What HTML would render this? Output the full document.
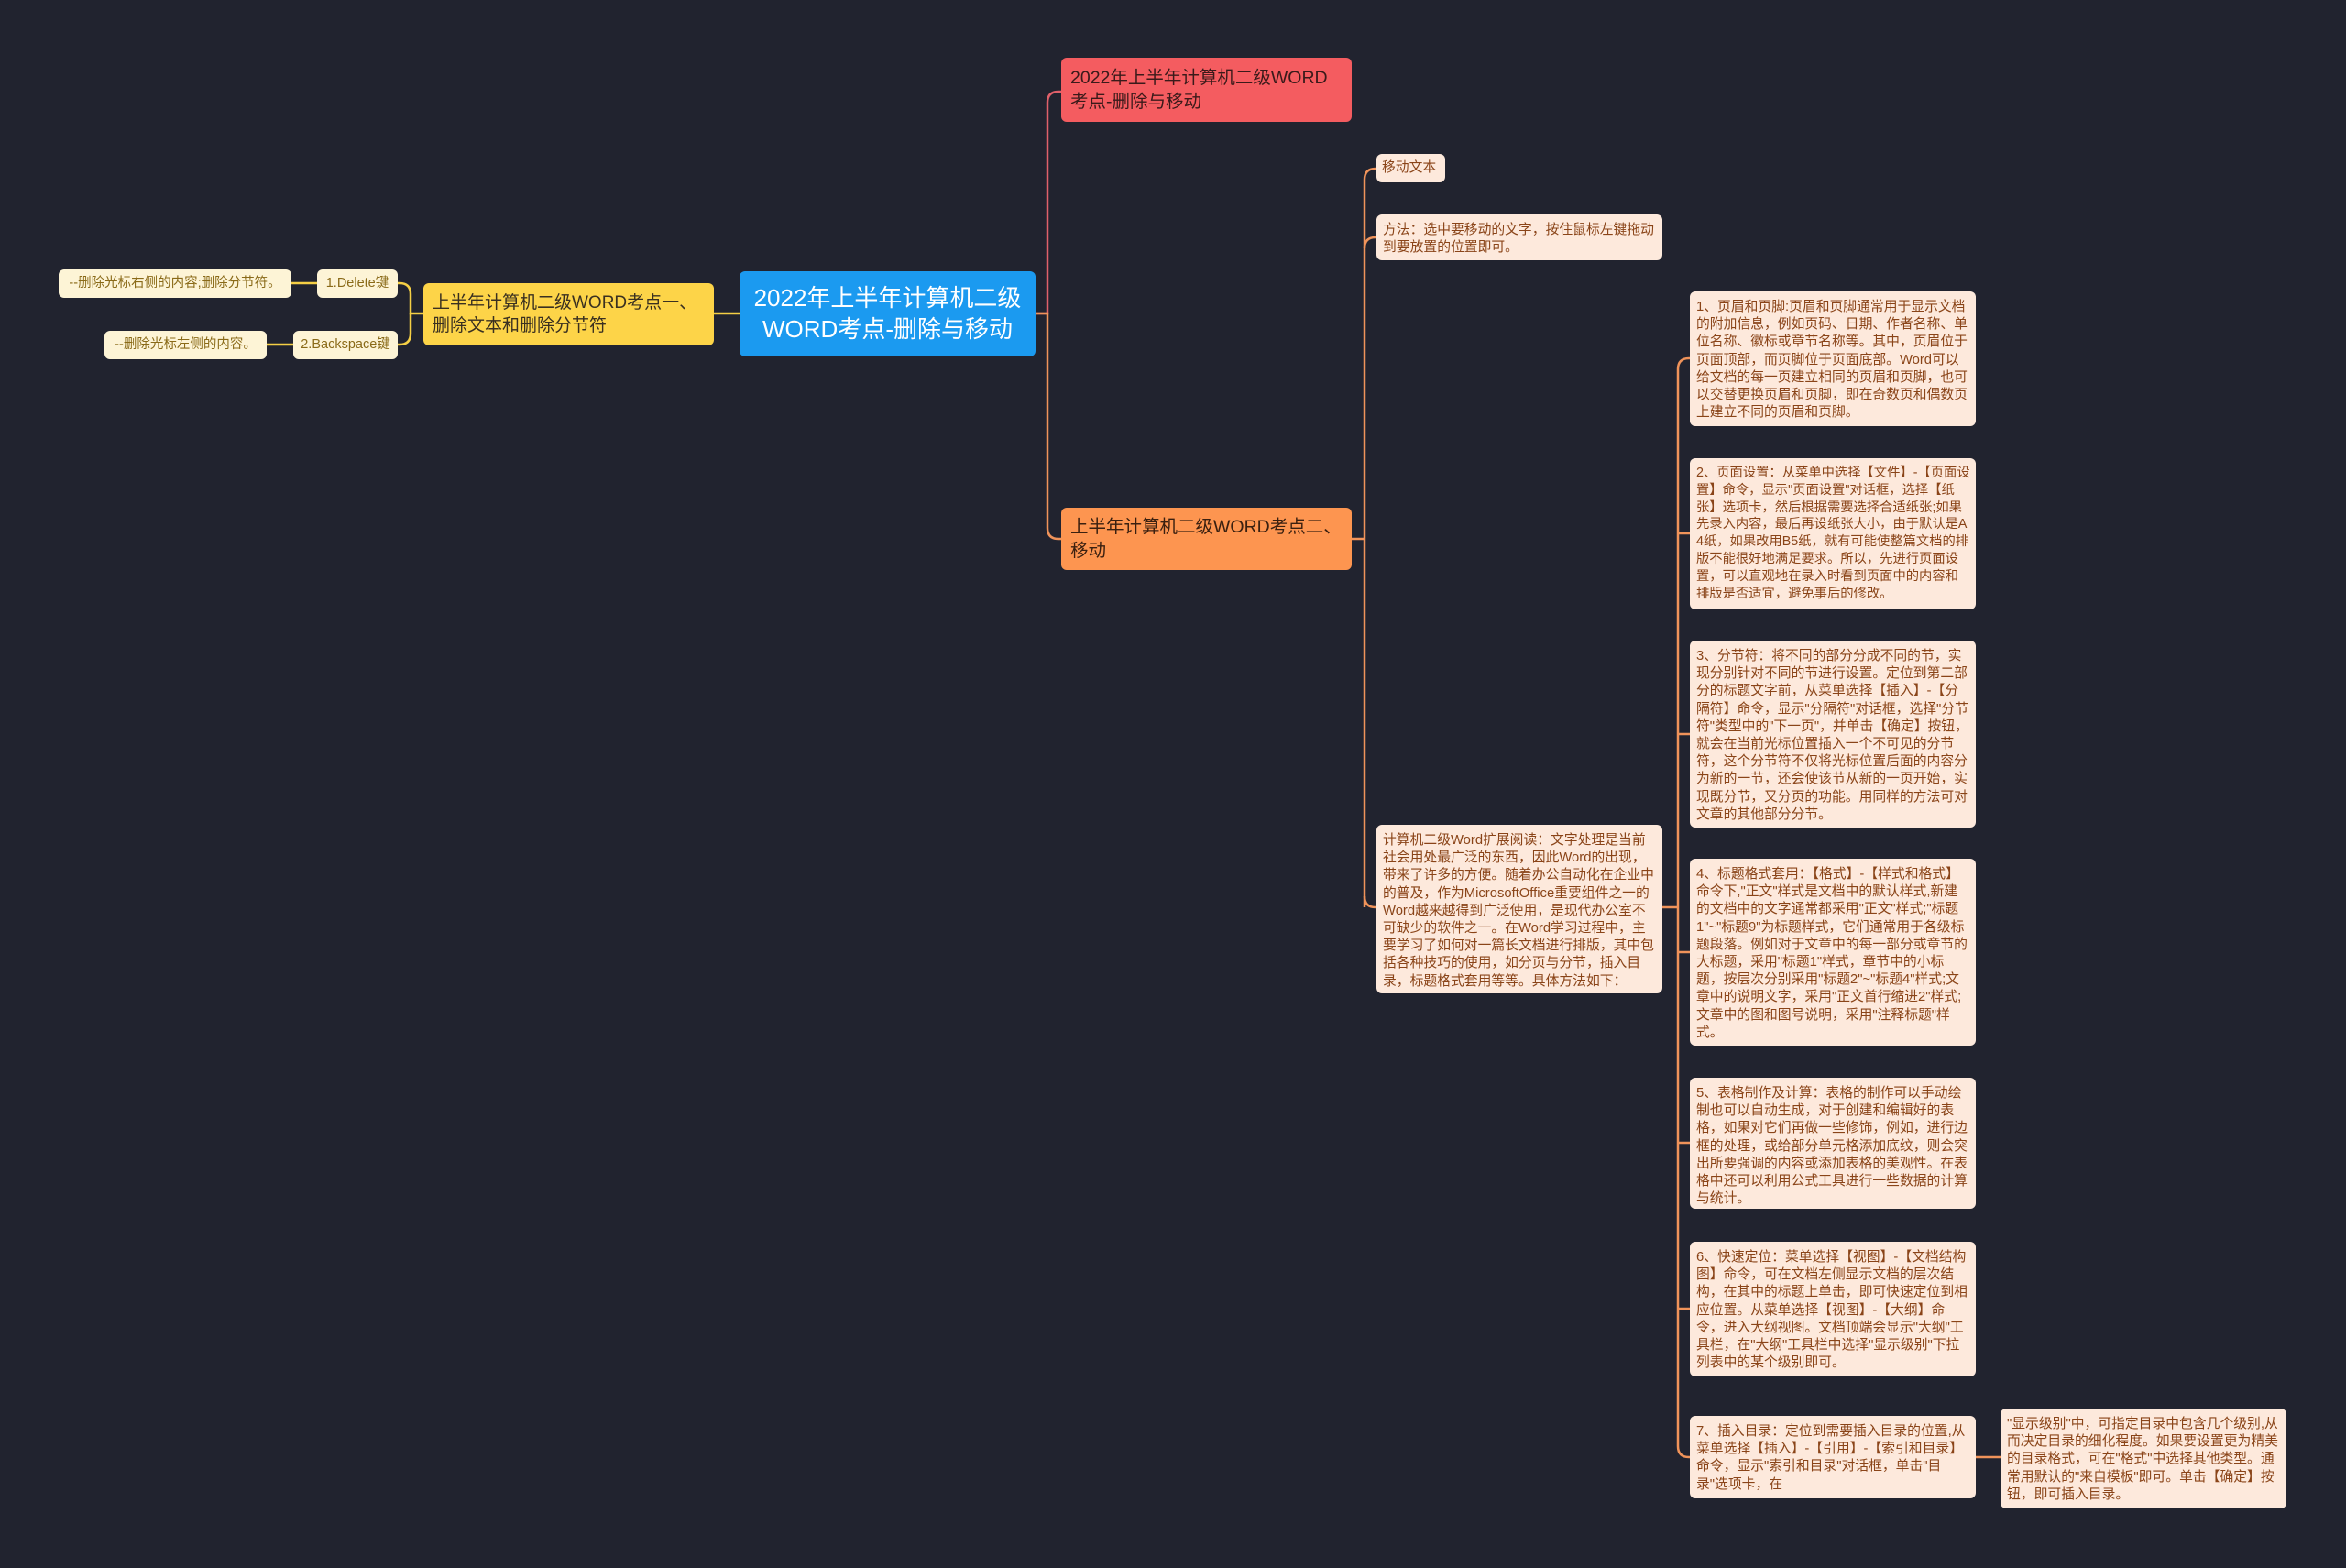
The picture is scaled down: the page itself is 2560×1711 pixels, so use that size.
<!DOCTYPE html>
<html><head><meta charset="utf-8"><style>
html,body{margin:0;padding:0;background:#21232f;}
body{width:2560px;height:1711px;position:relative;overflow:hidden;font-family:"Liberation Sans","Noto Sans CJK SC",sans-serif;}
.n{position:absolute;box-sizing:border-box;border-radius:6px;}
.p{background:#fde9dc;color:#8a4418;font-size:14.8px;line-height:19.2px;padding:8px 6px 6px 7px;word-break:break-all;overflow:hidden;}
.c{background:#fdf4d6;color:#8a6a18;font-size:14.5px;line-height:31px;text-align:center;white-space:nowrap;}
svg{position:absolute;left:0;top:0;}
</style></head><body>
<svg width="2560" height="1711" fill="none" stroke-width="2.5">
<path d="M1130 342 H1143 V112 Q1143 100 1155 100 H1158" stroke="#e0606a"/>
<path d="M1130 342 H1143 V576 Q1143 588 1155 588 H1158" stroke="#f0935a"/>
<path d="M1475 588 H1489" stroke="#f0935a"/>
<path d="M1489 990 V196 Q1489 184 1501 184 H1502" stroke="#f0935a"/>
<path d="M1489 271 Q1489 259 1501 259 H1502" stroke="#f0935a"/>
<path d="M1489 978 Q1489 990 1501 990 H1502" stroke="#f0935a"/>
<path d="M1814 990 H1831" stroke="#f0935a"/>
<path d="M1831 1578 V403 Q1831 391 1843 391 H1844" stroke="#f0935a"/>
<path d="M1831 582 H1844 M1831 801 H1844 M1831 1039 H1844 M1831 1247 H1844 M1831 1428 H1844" stroke="#f0935a"/>
<path d="M1831 1578 Q1831 1590 1843 1590 H1844" stroke="#f0935a"/>
<path d="M2156 1590 H2183" stroke="#f0935a"/>
<path d="M807 342 H779" stroke="#f5cf45"/>
<path d="M462 342 H448 V321 Q448 309 436 309 H434" stroke="#f5cf45"/>
<path d="M448 342 V364 Q448 376 436 376 H434" stroke="#f5cf45"/>
<path d="M346 309 H318" stroke="#f5cf45"/>
<path d="M320 376 H291" stroke="#f5cf45"/>
</svg>

<div class="n" style="left:807px;top:296px;width:323px;height:93px;background:#1b9af0;color:#fff;font-size:26px;line-height:34px;text-align:center;padding-top:12px;">2022年上半年计算机二级WORD考点-删除与移动</div>

<div class="n" style="left:1158px;top:63px;width:317px;height:70px;background:#f45c60;color:#3a1a1a;font-size:19.5px;line-height:26px;padding:9px 10px;">2022年上半年计算机二级WORD考点-删除与移动</div>
<div class="n" style="left:1158px;top:554px;width:317px;height:68px;background:#fd9550;color:#3a2010;font-size:19.5px;line-height:26px;padding:8px 10px;">上半年计算机二级WORD考点二、移动</div>

<div class="n" style="left:462px;top:309px;width:317px;height:68px;background:#fdd448;color:#3a3020;font-size:19px;line-height:25px;padding:9px 10px;">上半年计算机二级WORD考点一、删除文本和删除分节符</div>
<div class="n c" style="left:346px;top:294px;width:88px;height:31px;">1.Delete键</div>
<div class="n c" style="left:320px;top:361px;width:114px;height:31px;">2.Backspace键</div>
<div class="n c" style="left:64px;top:294px;width:254px;height:31px;">--删除光标右侧的内容;删除分节符。</div>
<div class="n c" style="left:114px;top:361px;width:177px;height:31px;">--删除光标左侧的内容。</div>

<div class="n p" style="left:1502px;top:168px;width:75px;height:31px;line-height:17px;white-space:nowrap;padding-left:6px;padding-top:7px;">移动文本</div>
<div class="n p" style="left:1502px;top:234px;width:312px;height:50px;">方法：选中要移动的文字，按住鼠标左键拖动到要放置的位置即可。</div>
<div class="n p" style="left:1502px;top:900px;width:312px;height:184px;">计算机二级Word扩展阅读：文字处理是当前社会用处最广泛的东西，因此Word的出现，带来了许多的方便。随着办公自动化在企业中的普及，作为MicrosoftOffice重要组件之一的Word越来越得到广泛使用，是现代办公室不可缺少的软件之一。在Word学习过程中，主要学习了如何对一篇长文档进行排版，其中包括各种技巧的使用，如分页与分节，插入目录，标题格式套用等等。具体方法如下：</div>

<div class="n p" style="left:1844px;top:318px;width:312px;height:147px;">1、页眉和页脚:页眉和页脚通常用于显示文档的附加信息，例如页码、日期、作者名称、单位名称、徽标或章节名称等。其中，页眉位于页面顶部，而页脚位于页面底部。Word可以给文档的每一页建立相同的页眉和页脚，也可以交替更换页眉和页脚，即在奇数页和偶数页上建立不同的页眉和页脚。</div>
<div class="n p" style="left:1844px;top:500px;width:312px;height:165px;font-size:14.3px;line-height:18.8px;padding-top:7px;padding-right:5px;">2、页面设置：从菜单中选择【文件】-【页面设置】命令，显示"页面设置"对话框，选择【纸张】选项卡，然后根据需要选择合适纸张;如果先录入内容，最后再设纸张大小，由于默认是A4纸，如果改用B5纸，就有可能使整篇文档的排版不能很好地满足要求。所以，先进行页面设置，可以直观地在录入时看到页面中的内容和排版是否适宜，避免事后的修改。</div>
<div class="n p" style="left:1844px;top:699px;width:312px;height:204px;">3、分节符：将不同的部分分成不同的节，实现分别针对不同的节进行设置。定位到第二部分的标题文字前，从菜单选择【插入】-【分隔符】命令，显示"分隔符"对话框，选择"分节符"类型中的"下一页"，并单击【确定】按钮，就会在当前光标位置插入一个不可见的分节符，这个分节符不仅将光标位置后面的内容分为新的一节，还会使该节从新的一页开始，实现既分节，又分页的功能。用同样的方法可对文章的其他部分分节。</div>
<div class="n p" style="left:1844px;top:937px;width:312px;height:204px;">4、标题格式套用：【格式】-【样式和格式】命令下,"正文"样式是文档中的默认样式,新建的文档中的文字通常都采用"正文"样式;"标题1"~"标题9"为标题样式，它们通常用于各级标题段落。例如对于文章中的每一部分或章节的大标题，采用"标题1"样式，章节中的小标题，按层次分别采用"标题2"~"标题4"样式;文章中的说明文字，采用"正文首行缩进2"样式;文章中的图和图号说明，采用"注释标题"样式。</div>
<div class="n p" style="left:1844px;top:1176px;width:312px;height:143px;">5、表格制作及计算：表格的制作可以手动绘制也可以自动生成，对于创建和编辑好的表格，如果对它们再做一些修饰，例如，进行边框的处理，或给部分单元格添加底纹，则会突出所要强调的内容或添加表格的美观性。在表格中还可以利用公式工具进行一些数据的计算与统计。</div>
<div class="n p" style="left:1844px;top:1355px;width:312px;height:147px;">6、快速定位：菜单选择【视图】-【文档结构图】命令，可在文档左侧显示文档的层次结构，在其中的标题上单击，即可快速定位到相应位置。从菜单选择【视图】-【大纲】命令，进入大纲视图。文档顶端会显示"大纲"工具栏，在"大纲"工具栏中选择"显示级别"下拉列表中的某个级别即可。</div>
<div class="n p" style="left:1844px;top:1545px;width:312px;height:90px;">7、插入目录：定位到需要插入目录的位置,从菜单选择【插入】-【引用】-【索引和目录】命令，显示"索引和目录"对话框，单击"目录"选项卡，在</div>
<div class="n p" style="left:2183px;top:1537px;width:312px;height:109px;">"显示级别"中，可指定目录中包含几个级别,从而决定目录的细化程度。如果要设置更为精美的目录格式，可在"格式"中选择其他类型。通常用默认的"来自模板"即可。单击【确定】按钮，即可插入目录。</div>
</body></html>
